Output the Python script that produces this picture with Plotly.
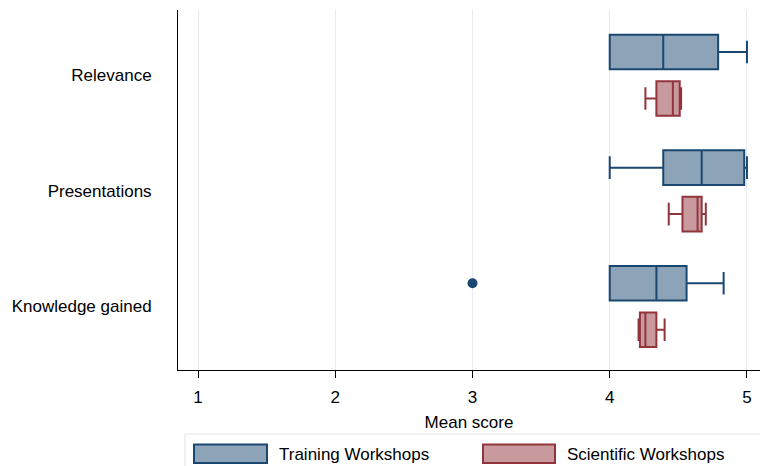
import plotly.graph_objects as go

categories = ["Relevance", "Presentations", "Knowledge gained"]
cat_pos = [3, 2, 1]

series_names = ["Training Workshops", "Scientific Workshops"]

# Training Workshops stats
tr_low = [4.00, 4.00, 4.00]
tr_q1 = [4.00, 4.39, 4.00]
tr_med = [4.39, 4.67, 4.34]
tr_q3 = [4.79, 4.98, 4.56]
tr_high = [5.00, 5.00, 4.83]
tr_outlier_x = [3.0]
tr_outlier_cat = ["Knowledge gained"]

# Scientific Workshops stats
sc_low = [4.26, 4.43, 4.21]
sc_q1 = [4.34, 4.53, 4.22]
sc_med = [4.46, 4.64, 4.26]
sc_q3 = [4.51, 4.67, 4.34]
sc_high = [4.52, 4.70, 4.40]

x_ticks = [1, 2, 3, 4, 5]

TR_FILL = "rgb(141,163,184)"
TR_LINE = "rgb(26,71,112)"
SC_FILL = "rgb(201,154,157)"
SC_LINE = "rgb(145,52,60)"
FONT = "Liberation Sans, Arial, sans-serif"

W, H = 760, 466
ML, MR, MT, MB = 178, 0, 10, 96
PW, PH = W - ML - MR, H - MT - MB

offset = 0.201
tr_y = [p + offset for p in cat_pos]
sc_y = [p - offset for p in cat_pos]

fig = go.Figure()
fig.add_trace(go.Box(
    name=series_names[0], orientation="h", y=tr_y,
    q1=tr_q1, median=tr_med, q3=tr_q3, lowerfence=tr_low, upperfence=tr_high,
    width=0.30, whiskerwidth=0.65, fillcolor=TR_FILL,
    line=dict(color=TR_LINE, width=2), boxpoints=False, showlegend=False,
))
fig.add_trace(go.Box(
    name=series_names[1], orientation="h", y=sc_y,
    q1=sc_q1, median=sc_med, q3=sc_q3, lowerfence=sc_low, upperfence=sc_high,
    width=0.30, whiskerwidth=0.65, fillcolor=SC_FILL,
    line=dict(color=SC_LINE, width=2), boxpoints=False, showlegend=False,
))
out_y = [cat_pos[categories.index(c)] + offset for c in tr_outlier_cat]
fig.add_trace(go.Scatter(
    x=tr_outlier_x, y=out_y, mode="markers",
    marker=dict(color=TR_LINE, size=10), showlegend=False, hoverinfo="skip",
    cliponaxis=False,
))

def px_x(px):
    return (px - ML) / PW

def px_y(py):
    return (H - MB - py) / PH

shapes = [
    dict(type="rect", xref="paper", yref="paper",
         x0=px_x(185), x1=px_x(770), y0=px_y(434), y1=px_y(472),
         line=dict(color="rgb(225,230,234)", width=1), fillcolor="white", layer="below"),
    dict(type="rect", xref="paper", yref="paper",
         x0=px_x(194), x1=px_x(267), y0=px_y(444.5), y1=px_y(463),
         line=dict(color=TR_LINE, width=2), fillcolor=TR_FILL),
    dict(type="rect", xref="paper", yref="paper",
         x0=px_x(483), x1=px_x(555), y0=px_y(444.5), y1=px_y(463),
         line=dict(color=SC_LINE, width=2), fillcolor=SC_FILL),
]
annotations = [
    dict(xref="paper", yref="paper", x=px_x(277), y=px_y(454), text=series_names[0],
         showarrow=False, xanchor="left", yanchor="middle",
         font=dict(family=FONT, size=17, color="black")),
    dict(xref="paper", yref="paper", x=px_x(565), y=px_y(454), text=series_names[1],
         showarrow=False, xanchor="left", yanchor="middle",
         font=dict(family=FONT, size=17, color="black")),
]

fig.update_layout(
    width=W, height=H,
    margin=dict(l=ML, r=MR, t=MT, b=MB, pad=0),
    paper_bgcolor="white", plot_bgcolor="white",
    boxmode="overlay",
    font=dict(family=FONT, size=17, color="black"),
    shapes=shapes, annotations=annotations,
    xaxis=dict(
        range=[0.854, 5.095], tickvals=x_ticks, ticktext=[str(t) for t in x_ticks],
        showgrid=True, gridcolor="rgb(230,236,241)", gridwidth=1,
        zeroline=False, showline=True, linecolor="black", linewidth=1,
        ticks="outside", ticklen=7, tickcolor="black", ticklabelstandoff=5,
        title=dict(text="Mean score", standoff=9, font=dict(size=17)),
        tickfont=dict(size=17),
    ),
    yaxis=dict(
        range=[0.4507, 3.5645], tickvals=cat_pos, ticktext=categories,
        showgrid=False, zeroline=False, showline=True, linecolor="black", linewidth=1,
        ticks="", ticklabelstandoff=22, tickfont=dict(size=17),
    ),
)

fig.write_html("out.html", config={"displayModeBar": False},
               post_script="document.body.style.margin='0';document.body.style.overflow='hidden';")
